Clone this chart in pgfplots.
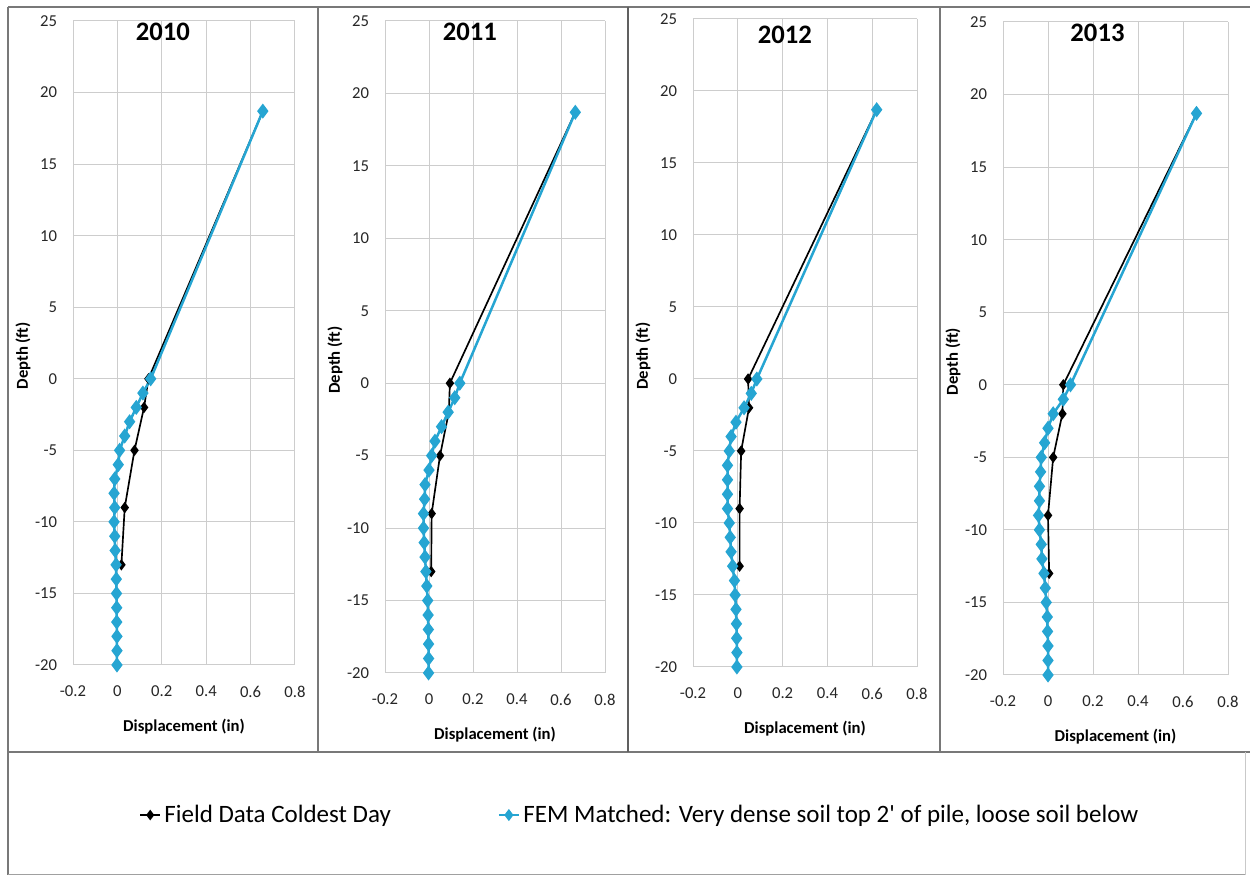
\documentclass[border=0pt]{standalone}
\usepackage{pgfplots}
\pgfplotsset{compat=1.18}
\usepackage{fontspec}
\setmainfont{Carlito}
\definecolor{femc}{RGB}{38,165,210}
\definecolor{gridc}{RGB}{205,205,205}
\definecolor{framec}{RGB}{120,120,120}

\pgfplotsset{
  panel/.style={
    scale only axis,
    xmin=-0.2, xmax=0.8, ymin=-20, ymax=25,
    xtick={-0.2,0,0.2,0.4,0.6,0.8},
    ytick={-20,-15,-10,-5,0,5,10,15,20,25},
    grid=major,
    major grid style={gridc, line width=0.6pt},
    axis line style={draw=none},
    major tick length=0pt,
    /pgf/number format/assume math mode=true,
    tick label style={font=\fontsize{10}{11}\selectfont, text=black!85},
    xticklabel shift=9pt,
    yticklabel shift=6pt,
    xlabel={\textbf{Displacement (in)}},
    ylabel={\textbf{Depth (ft)}},
    label style={font=\fontsize{10}{12}\selectfont},
    xlabel style={at={(axis description cs:0.5,0)}, anchor=center, yshift=-37pt},
    ylabel style={at={(axis description cs:0,0.48)}, anchor=center, yshift=30pt},
    clip=false,
  },
  field/.style={black, line width=1pt, mark=diamond*, mark size=2.6pt, mark options={black, solid}},
  fem/.style={femc, line width=1.5pt, mark=diamond*, mark size=3.3pt, mark options={femc, solid}},
}

\begin{document}
\begin{tikzpicture}
\useasboundingbox (0,0) rectangle (750pt,526.8pt);
% frame
\draw[framec, line width=1.2pt] (4.8pt,522.6pt) -- (750pt,522.6pt);
\draw[framec, line width=0.9pt] (4.8pt,522.6pt) -- (4.8pt,1.8pt);
\draw[framec, line width=1.0pt] (4.8pt,75.6pt) -- (750pt,75.6pt);
\draw[framec!70, line width=0.6pt] (4.8pt,1.8pt) -- (747pt,1.8pt);
\draw[framec!40, line width=0.6pt] (747pt,75.6pt) -- (747pt,1.8pt);
\draw[framec, line width=0.9pt] (190.8pt,522.6pt) -- (190.8pt,75.6pt);
\draw[framec!80!black, line width=1.4pt] (376.8pt,522.6pt) -- (376.8pt,75.6pt);
\draw[framec, line width=0.9pt] (564pt,522.6pt) -- (564pt,75.6pt);

% ---------- 2010 ----------
\begin{axis}[panel, at={(43.8pt,127.8pt)}, anchor=south west, width=133.2pt, height=386.4pt,
  legend columns=2,
  legend style={at={(0.275,-0.233)}, anchor=west, draw=none, fill=none,
    font=\fontsize{15}{17}\selectfont, column sep=0pt,
    /tikz/every odd column/.append style={column sep=0pt},
    /tikz/every even column/.append style={column sep=62pt}},
  legend cell align=left,
  legend image code/.code={\draw[#1] (0pt,0pt) -- (12pt,0pt); \draw[#1, mark size=2.4pt] plot coordinates {(6pt,0pt)};}]
\addplot[field] coordinates {(0.655,18.7) (0.14,0) (0.12,-2) (0.077,-5) (0.033,-9) (0.018,-13)};
\addlegendentry{Field Data Coldest Day}
\addplot[fem] coordinates {(0.655,18.7) (0.15,0) (0.115,-1) (0.085,-2) (0.055,-3) (0.033,-4) (0.01,-5) (0.004,-6) (-0.012,-7) (-0.015,-8) (-0.012,-9) (-0.015,-10) (-0.012,-11) (-0.01,-12) (-0.006,-13) (-0.005,-14) (-0.004,-15) (-0.003,-16) (-0.003,-17) (-0.002,-18) (-0.002,-19) (-0.002,-20)};
\addlegendentry{FEM Matched: Very dense soil top 2\textquotesingle{} of pile, loose soil below}
\node[font=\fontsize{16}{18}\selectfont\bfseries] at (rel axis cs:0.405,0.983) {2010};
\end{axis}

% ---------- 2011 ----------
\begin{axis}[panel, at={(231pt,123pt)}, anchor=south west, width=132pt, height=391.2pt]
\addplot[field] coordinates {(0.665,18.7) (0.095,0) (0.09,-2) (0.05,-5) (0.012,-9) (0.01,-13)};
\addplot[fem] coordinates {(0.665,18.7) (0.14,0) (0.117,-1) (0.087,-2) (0.057,-3) (0.027,-4) (0.012,-5) (0,-6) (-0.018,-7) (-0.02,-8) (-0.025,-9) (-0.025,-10) (-0.022,-11) (-0.018,-12) (-0.014,-13) (-0.01,-14) (-0.006,-15) (-0.004,-16) (-0.003,-17) (-0.002,-18) (-0.002,-19) (-0.002,-20)};
\node[font=\fontsize{16}{18}\selectfont\bfseries] at (rel axis cs:0.386,0.983) {2011};
\end{axis}

% ---------- 2012 ----------
\begin{axis}[panel, at={(415.8pt,126.6pt)}, anchor=south west, width=134.4pt, height=388.8pt]
\addplot[field] coordinates {(0.62,18.7) (0.046,0) (0.05,-2) (0.015,-5) (0.008,-9) (0.008,-13)};
\addplot[fem] coordinates {(0.62,18.7) (0.085,0) (0.06,-1) (0.028,-2) (-0.008,-3) (-0.03,-4) (-0.038,-5) (-0.046,-6) (-0.046,-7) (-0.046,-8) (-0.046,-9) (-0.038,-10) (-0.034,-11) (-0.03,-12) (-0.023,-13) (-0.015,-14) (-0.012,-15) (-0.008,-16) (-0.006,-17) (-0.005,-18) (-0.004,-19) (-0.004,-20)};
\node[font=\fontsize{16}{18}\selectfont\bfseries] at (rel axis cs:0.41,0.975) {2012};
\end{axis}

% ---------- 2013 ----------
\begin{axis}[panel, at={(601.8pt,121.8pt)}, anchor=south west, width=135pt, height=391.8pt]
\addplot[field] coordinates {(0.66,18.7) (0.068,0) (0.064,-2) (0.023,-5) (0,-9) (0.005,-13)};
\addplot[fem] coordinates {(0.66,18.7) (0.1,0) (0.068,-1) (0.023,-2) (0,-3) (-0.015,-4) (-0.03,-5) (-0.033,-6) (-0.038,-7) (-0.038,-8) (-0.042,-9) (-0.038,-10) (-0.03,-11) (-0.027,-12) (-0.018,-13) (-0.012,-14) (-0.008,-15) (-0.003,-16) (-0.002,-17) (0,-18) (0,-19) (0,-20)};
\node[font=\fontsize{16}{18}\selectfont\bfseries] at (rel axis cs:0.42,0.983) {2013};
\end{axis}
\end{tikzpicture}
\end{document}
